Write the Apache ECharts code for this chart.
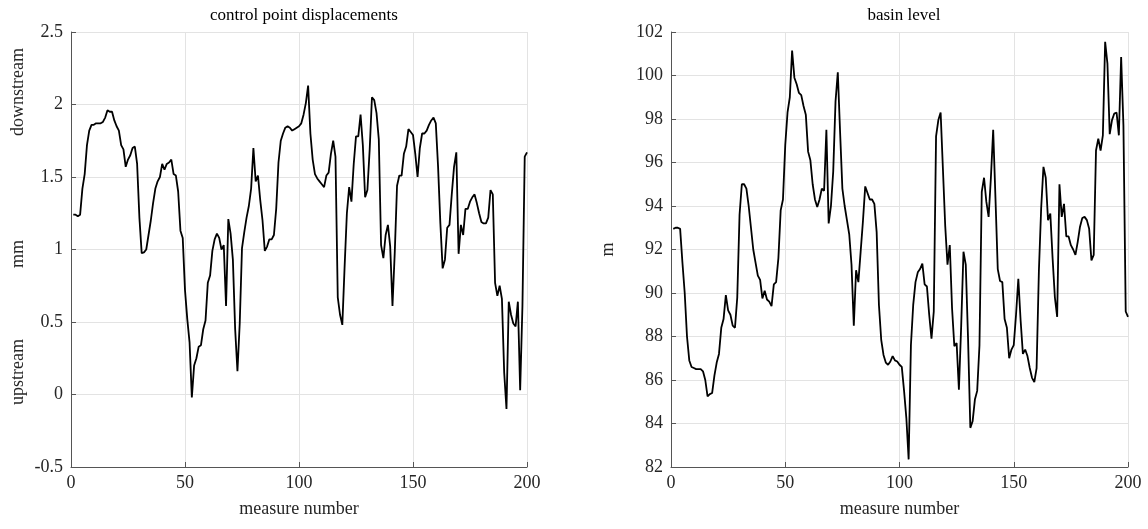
<!DOCTYPE html>
<html>
<head>
<meta charset="utf-8">
<script src="https://cdn.jsdelivr.net/npm/echarts@6/dist/echarts.min.js"></script>
<style>
  html, body { margin: 0; padding: 0; background: #fff; }
  #chart { width: 1148px; height: 529px; }
</style>
</head>
<body>
<div id="chart"></div>
<script>
  // control point displacements (mm), measures 1..200
  const displacement = [
    1.24, 1.24, 1.23, 1.24, 1.42, 1.52, 1.72, 1.82, 1.86, 1.86,
    1.87, 1.87, 1.87, 1.88, 1.91, 1.96, 1.95, 1.95, 1.89, 1.85,
    1.82, 1.72, 1.69, 1.57, 1.62, 1.65, 1.70, 1.71, 1.59, 1.22,
    0.975, 0.98, 1.0, 1.1, 1.2, 1.32, 1.42, 1.47, 1.50, 1.59,
    1.55, 1.59, 1.60, 1.62, 1.52, 1.51, 1.40, 1.13, 1.08, 0.72,
    0.52, 0.36, -0.02, 0.20, 0.25, 0.33, 0.34, 0.45, 0.51, 0.77,
    0.82, 0.99, 1.07, 1.11, 1.08, 1.0, 1.03, 0.61, 1.21, 1.11,
    0.93, 0.45, 0.16, 0.49, 1.01, 1.12, 1.22, 1.30, 1.42, 1.70,
    1.47, 1.51, 1.34, 1.20, 0.99, 1.02, 1.07, 1.07, 1.10, 1.28,
    1.60, 1.75, 1.80, 1.84, 1.85, 1.84, 1.82, 1.83, 1.84, 1.85,
    1.87, 1.93, 2.01, 2.13, 1.80, 1.62, 1.52, 1.49, 1.47, 1.45,
    1.43, 1.51, 1.53, 1.66, 1.75, 1.64, 0.67, 0.55, 0.48, 0.88,
    1.25, 1.43, 1.33, 1.59, 1.78, 1.78, 1.93, 1.72, 1.36, 1.41,
    1.69, 2.05, 2.03, 1.94, 1.76, 1.03, 0.94, 1.10, 1.17, 1.02,
    0.61, 0.98, 1.44, 1.51, 1.51, 1.66, 1.71, 1.83, 1.81, 1.79,
    1.66, 1.50, 1.70, 1.80, 1.80, 1.82, 1.86, 1.89, 1.91, 1.87,
    1.57, 1.18, 0.87, 0.93, 1.15, 1.17, 1.38, 1.57, 1.67, 0.97,
    1.17, 1.10, 1.28, 1.28, 1.33, 1.36, 1.38, 1.32, 1.25, 1.19,
    1.18, 1.18, 1.22, 1.41, 1.38, 0.77, 0.68, 0.75, 0.66, 0.15,
    -0.10, 0.64, 0.55, 0.49, 0.47, 0.64, 0.03, 0.61, 1.64, 1.67
  ]

  // basin level (m), measures 1..200
  const basinLevel = [
    92.95, 93.0, 93.0, 92.95, 91.4, 90.0, 88.0, 86.9, 86.6, 86.55,
    86.5, 86.5, 86.5, 86.4, 86.0, 85.25, 85.35, 85.4, 86.2, 86.8,
    87.2, 88.4, 88.8, 89.9, 89.2, 89.0, 88.5, 88.4, 89.8, 93.6,
    95.0, 95.0, 94.8, 94.0, 93.0, 92.0, 91.4, 90.8, 90.6, 89.75,
    90.1, 89.7, 89.6, 89.4, 90.4, 90.5, 91.6, 93.8, 94.3, 96.8,
    98.3, 99.0, 101.15, 99.9, 99.6, 99.2, 99.1, 98.6, 98.2, 96.5,
    96.1, 95.0, 94.3, 93.95, 94.3, 94.8, 94.7, 97.5, 93.2, 94.0,
    95.6, 98.8, 100.15, 97.4, 94.8, 94.0, 93.35, 92.7, 91.3, 88.5,
    91.05, 90.5, 91.9, 93.3, 94.9, 94.6, 94.3, 94.3, 94.1, 92.8,
    89.45, 87.85, 87.15, 86.8, 86.7, 86.85, 87.1, 86.9, 86.85, 86.7,
    86.6, 85.5, 84.25, 82.35, 87.6, 89.45, 90.5, 90.95, 91.1, 91.35,
    90.4, 90.3, 89.0, 87.9, 89.15, 97.2, 97.95, 98.3, 95.7, 93.1,
    91.3, 92.2, 89.3, 87.55, 87.7, 85.55, 88.5, 91.9, 91.3, 87.9,
    83.8, 84.1, 85.1, 85.5, 87.6, 94.65, 95.3, 94.2, 93.5, 95.3,
    97.5, 94.35, 91.1, 90.55, 90.5, 88.8, 88.4, 87.0, 87.4, 87.6,
    89.0, 90.65, 88.75, 87.2, 87.4, 87.1, 86.55, 86.1, 85.9, 86.55,
    91.0, 93.9, 95.8, 95.3, 93.35, 93.65, 91.6, 89.8, 88.9, 95.0,
    93.5, 94.1, 92.6, 92.6, 92.2, 92.0, 91.75, 92.35, 93.05, 93.45,
    93.5, 93.35, 92.95, 91.5, 91.75, 96.55, 97.1, 96.55, 97.25, 101.55,
    100.55, 97.3, 97.95, 98.25, 98.3, 97.25, 100.85, 97.7, 89.15, 88.9
  ]

  const xTicks = { min: 0, max: 200, interval: 50 }
  const leftTicks = { min: -0.5, max: 2.5, interval: 0.5 }
  const rightTicks = { min: 82, max: 102, interval: 2 }

  const font = 'Liberation Serif'
  const textColor = '#262626'

  const toPoints = arr => arr.map((v, i) => [i + 1, v])

  function xAxisFor(gridIndex) {
    return {
      type: 'value',
      gridIndex: gridIndex,
      min: xTicks.min,
      max: xTicks.max,
      interval: xTicks.interval,
      name: 'measure number',
      nameLocation: 'middle',
      nameGap: 33,
      nameTextStyle: { fontFamily: font, fontSize: 18, color: textColor },
      axisLine: { show: true, onZero: false, lineStyle: { color: '#555', width: 1 } },
      axisTick: { show: true, inside: true, length: 5, lineStyle: { color: '#555' } },
      axisLabel: { fontFamily: font, fontSize: 18, color: textColor, margin: 7 },
      splitLine: { show: true, lineStyle: { color: '#e3e3e3', width: 1 } }
    }
  }

  function yAxisFor(gridIndex, ticks) {
    return {
      type: 'value',
      gridIndex: gridIndex,
      min: ticks.min,
      max: ticks.max,
      interval: ticks.interval,
      axisLine: { show: true, onZero: false, lineStyle: { color: '#555', width: 1 } },
      axisTick: { show: true, inside: true, length: 5, lineStyle: { color: '#555' } },
      axisLabel: { fontFamily: font, fontSize: 18, color: textColor, margin: 8 },
      splitLine: { show: true, lineStyle: { color: '#e3e3e3', width: 1 } }
    }
  }

  const chart = echarts.init(document.getElementById('chart'), null, { renderer: 'canvas' })
  const option = {
    animation: false,
    backgroundColor: '#fff',
    title: [
      {
        text: 'control point displacements',
        left: 299,
        top: 2,
        textAlign: 'center',
        textStyle: { fontFamily: font, fontSize: 17, fontWeight: 'normal', color: '#000' }
      },
      {
        text: 'basin level',
        left: 899,
        top: 2,
        textAlign: 'center',
        textStyle: { fontFamily: font, fontSize: 17, fontWeight: 'normal', color: '#000' }
      }
    ],
    grid: [
      { left: 71, right: 621, top: 32, bottom: 62 },
      { left: 671, right: 20, top: 32, bottom: 62 }
    ],
    xAxis: [xAxisFor(0), xAxisFor(1)],
    yAxis: [
      yAxisFor(0, leftTicks),
      Object.assign(yAxisFor(1, rightTicks), {
        name: 'm',
        nameLocation: 'middle',
        nameGap: 54,
        nameTextStyle: { fontFamily: font, fontSize: 18, color: textColor }
      })
    ],
    graphic: [
      { type: 'text', x: 18, y: 92, rotation: Math.PI / 2,
        style: { text: 'downstream', font: '18px "Liberation Serif"', fill: textColor, align: 'center', verticalAlign: 'middle' } },
      { type: 'text', x: 18, y: 254, rotation: Math.PI / 2,
        style: { text: 'mm', font: '18px "Liberation Serif"', fill: textColor, align: 'center', verticalAlign: 'middle' } },
      { type: 'text', x: 18, y: 372, rotation: Math.PI / 2,
        style: { text: 'upstream', font: '18px "Liberation Serif"', fill: textColor, align: 'center', verticalAlign: 'middle' } }
    ],
    series: [
      {
        type: 'line',
        xAxisIndex: 0,
        yAxisIndex: 0,
        data: toPoints(displacement),
        showSymbol: false,
        lineStyle: { color: '#000', width: 1.8 }
      },
      {
        type: 'line',
        xAxisIndex: 1,
        yAxisIndex: 1,
        data: toPoints(basinLevel),
        showSymbol: false,
        lineStyle: { color: '#000', width: 1.8 }
      }
    ]
  }
  chart.setOption(option)
</script>
</body>
</html>
